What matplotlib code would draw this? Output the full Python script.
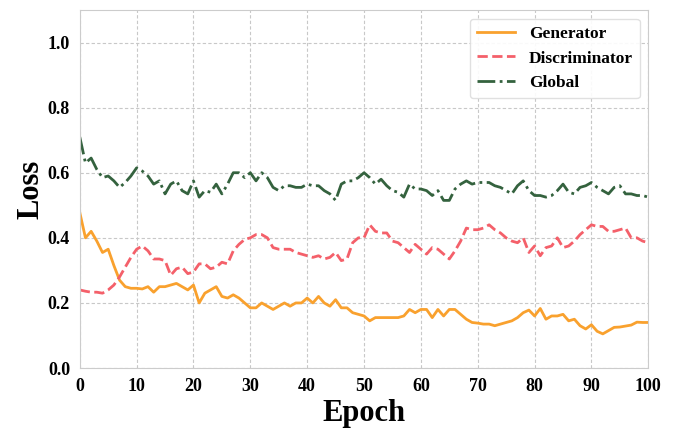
import numpy as np
import matplotlib.pyplot as plt

plt.rcParams['font.family'] = ['Liberation Serif', 'DejaVu Serif']
plt.rcParams['font.weight'] = 'bold'

epochs = np.arange(0, 101)

generator = [0.478, 0.40, 0.42, 0.39, 0.355, 0.365, 0.315, 0.27, 0.25, 0.245,
             0.245, 0.243, 0.25, 0.233, 0.25, 0.25, 0.255, 0.26, 0.25, 0.24,
             0.255, 0.20, 0.23, 0.24, 0.25, 0.22, 0.215, 0.225, 0.215, 0.20,
             0.185, 0.185, 0.20, 0.19, 0.18, 0.19, 0.20, 0.19, 0.20, 0.20,
             0.215, 0.20, 0.22, 0.20, 0.19, 0.21, 0.185, 0.185, 0.17, 0.165,
             0.16, 0.145, 0.155, 0.155, 0.155, 0.155, 0.155, 0.16, 0.18, 0.17,
             0.18, 0.18, 0.155, 0.18, 0.16, 0.18, 0.18, 0.165, 0.15, 0.14,
             0.138, 0.135, 0.135, 0.13, 0.135, 0.14, 0.145, 0.155, 0.17, 0.178,
             0.16, 0.183, 0.15, 0.16, 0.16, 0.165, 0.145, 0.15, 0.13, 0.12,
             0.133, 0.113, 0.105, 0.115, 0.125, 0.126, 0.129, 0.132, 0.141, 0.14,
             0.14]

discriminator = [0.24, 0.236, 0.233, 0.233, 0.23, 0.24, 0.255, 0.28, 0.31, 0.34,
                 0.365, 0.375, 0.36, 0.335, 0.335, 0.33, 0.285, 0.305, 0.31, 0.29,
                 0.295, 0.32, 0.32, 0.305, 0.31, 0.325, 0.32, 0.36, 0.38, 0.395,
                 0.40, 0.41, 0.41, 0.40, 0.37, 0.365, 0.365, 0.365, 0.355, 0.35,
                 0.345, 0.34, 0.345, 0.335, 0.34, 0.355, 0.33, 0.335, 0.385, 0.40,
                 0.40, 0.44, 0.42, 0.415, 0.415, 0.39, 0.385, 0.37, 0.355, 0.38,
                 0.365, 0.35, 0.37, 0.365, 0.35, 0.335, 0.36, 0.39, 0.43, 0.425,
                 0.425, 0.43, 0.44, 0.425, 0.415, 0.40, 0.39, 0.385, 0.40, 0.355,
                 0.375, 0.345, 0.37, 0.375, 0.40, 0.37, 0.375, 0.39, 0.41, 0.425,
                 0.44, 0.435, 0.435, 0.42, 0.42, 0.425, 0.43, 0.40, 0.40, 0.39,
                 0.385]

global_loss = [0.71, 0.63, 0.645, 0.61, 0.585, 0.59, 0.575, 0.555, 0.57, 0.59,
               0.615, 0.605, 0.59, 0.565, 0.575, 0.535, 0.565, 0.575, 0.545, 0.535,
               0.575, 0.525, 0.545, 0.54, 0.565, 0.535, 0.565, 0.60, 0.60, 0.585,
               0.60, 0.575, 0.60, 0.585, 0.555, 0.545, 0.56, 0.56, 0.555, 0.555,
               0.565, 0.56, 0.56, 0.545, 0.535, 0.515, 0.565, 0.575, 0.575, 0.585,
               0.60, 0.585, 0.565, 0.58, 0.56, 0.545, 0.54, 0.525, 0.565, 0.55,
               0.55, 0.545, 0.53, 0.545, 0.515, 0.515, 0.55, 0.565, 0.575, 0.565,
               0.57, 0.57, 0.57, 0.56, 0.555, 0.545, 0.535, 0.56, 0.575, 0.545,
               0.53, 0.53, 0.525, 0.53, 0.545, 0.565, 0.54, 0.535, 0.555, 0.56,
               0.57, 0.555, 0.545, 0.535, 0.555, 0.56, 0.535, 0.535, 0.53, 0.53,
               0.525]

fig = plt.figure(figsize=(6.76, 4.33), dpi=100)
ax = fig.add_axes([0.118, 0.15, 0.841, 0.827])

ax.plot(epochs, generator, '-', color='#F9A12E', lw=2, label='Generator')
ax.plot(epochs, discriminator, '--', color='#F4606A', lw=2, label='Discriminator')
ax.plot(epochs, global_loss, '-.', color='#34623E', lw=2, label='Global')

ax.set_xlim(0, 100)
ax.set_ylim(0, 1.1)
ax.set_xticks(np.arange(0, 101, 10))
ax.set_yticks(np.arange(0, 1.01, 0.2))
ax.set_yticklabels([f'{v:.1f}' for v in np.arange(0, 1.01, 0.2)])
ax.tick_params(labelsize=13, length=0, pad=7)
for lbl in ax.get_xticklabels() + ax.get_yticklabels():
    lbl.set_fontweight('bold')

ax.grid(True, linestyle=(0, (3, 2)), color='#C8C8C8', lw=0.8)
for s in ax.spines.values():
    s.set_color('#CCCCCC')

ax.set_xlabel('Epoch', fontsize=22, fontweight='bold', labelpad=3)
ax.set_ylabel('Loss', fontsize=22, fontweight='bold', labelpad=2)

leg = ax.legend(loc='upper right', prop={'weight': 'bold', 'size': 12.5},
                framealpha=0.9, edgecolor='#DDDDDD', handlelength=2.2,
                borderaxespad=0.5)

fig.savefig('out.png', dpi=100)
